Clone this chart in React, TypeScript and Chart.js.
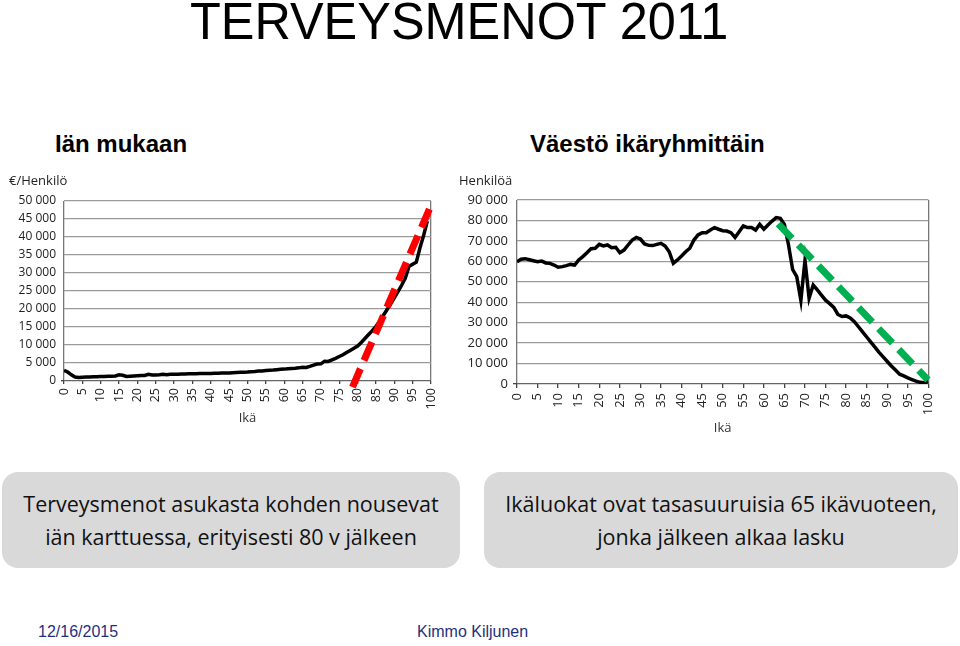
import React, { useEffect, useRef } from "react";
import { Chart, registerables } from "chart.js";

Chart.register(...registerables);

// ---------- data ----------
const costAges = [
  0, 1, 2, 3, 4, 5, 6, 7, 8, 9, 10, 11, 12, 13, 14, 15, 16, 17, 18, 19,
  20, 21, 22, 23, 24, 25, 26, 27, 28, 29, 30, 31, 32, 33, 34, 35, 36, 37, 38, 39,
  40, 41, 42, 43, 44, 45, 46, 47, 48, 49, 50, 51, 52, 53, 54, 55, 56, 57, 58, 59,
  60, 61, 62, 63, 64, 65, 66, 67, 68, 69, 70, 71, 72, 73, 74, 75, 76, 77, 78, 79,
  80, 81, 82, 83, 84, 85, 86, 87, 88, 89, 90, 91, 92, 93, 94, 95, 96, 97, 98, 99,
];
const costPerPerson = [
  3000, 2500, 1700, 1100, 950, 1050, 1100, 1100, 1150, 1150,
  1250, 1250, 1300, 1300, 1400, 1700, 1600, 1250, 1350, 1400,
  1450, 1500, 1550, 1850, 1650, 1700, 1750, 1900, 1750, 1850,
  1900, 1900, 1950, 1950, 2000, 2000, 2000, 2050, 2050, 2100,
  2100, 2150, 2150, 2200, 2200, 2250, 2300, 2350, 2400, 2450,
  2500, 2600, 2650, 2750, 2800, 2900, 3000, 3050, 3150, 3250,
  3300, 3400, 3500, 3550, 3650, 3800, 3750, 4050, 4400, 4700,
  4750, 5500, 5450, 5850, 6300, 6800, 7300, 7900, 8500, 9100,
  9700, 10700, 11800, 12900, 14000, 15200, 16600, 18200, 19800, 21400,
  23100, 24800, 26600, 28600, 31800, 32400, 33000, 37000, 40500, 44400,
];
const costTrendAges = [78.6, 100.3];
const costTrendValues = [-1700, 49500];

const popAges = [
  0, 1, 2, 3, 4, 5, 6, 7, 8, 9, 10, 11, 12, 13, 14, 15, 16, 17, 18, 19,
  20, 21, 22, 23, 24, 25, 26, 27, 28, 29, 30, 31, 32, 33, 34, 35, 36, 37, 38, 39,
  40, 41, 42, 43, 44, 45, 46, 47, 48, 49, 50, 51, 52, 53, 54, 55, 56, 57, 58, 59,
  60, 61, 62, 63, 64, 65, 66, 67, 68, 69, 70, 71, 72, 73, 74, 75, 76, 77, 78, 79,
  80, 81, 82, 83, 84, 85, 86, 87, 88, 89, 90, 91, 92, 93, 94, 95, 96, 97, 98, 99, 100,
];
const population = [
  59800, 61000, 61300, 60800, 60300, 59800, 60100, 59200, 59000, 58200,
  57100, 57400, 57900, 58500, 58200, 60700, 62300, 64200, 66200, 66400,
  68300, 67500, 68000, 66700, 66900, 64200, 65500, 68000, 70400, 71700,
  70900, 68500, 67800, 67700, 68300, 68800, 67500, 64700, 59000, 60700,
  62600, 64700, 66400, 70400, 72900, 74000, 74000, 75300, 76500, 75700,
  75000, 74800, 74000, 71700, 74500, 77300, 76500, 76500, 75300, 78100,
  75700, 77800, 79700, 81400, 81000, 78000, 68000, 56000, 52500, 41000,
  60500, 42000, 48400, 46000, 43500, 41000, 39300, 37500, 34000, 33000,
  33300, 32300, 30500, 28000, 25500, 23000, 20500, 18000, 15500, 13300,
  11000, 8800, 6800, 4800, 4000, 3000, 2200, 1400, 800, 600, 1200,
];
const popTrendAges = [63.5, 99.9];
const popTrendValues = [78300, 1950];

const xMin = 0;
const xMax = 100;
const xStep = 5;
const costMax = 50000;
const costStep = 5000;
const popMax = 90000;
const popStep = 10000;

// ---------- helpers ----------
const fmt = (v: number) => {
  if (v < 1000) return String(v);
  return `${Math.floor(v / 1000)} ${String(v % 1000).padStart(3, "0")}`;
};
const toPts = (xs: number[], ys: number[]) => xs.map((x, i) => ({ x, y: ys[i] }));
const tickFont = (size: number) => ({ family: "'Open Sans', 'Liberation Sans', sans-serif", size });

type Spec = {
  main: { x: number; y: number }[];
  trend: { x: number; y: number }[];
  trendColor: string;
  trendDash: number[];
  yMax: number;
  yStep: number;
  yTitle: string;
  yWidth: number;
  xHeight: number;
  padRight: number;
  titleBox: number;
  tickLen: number;
  xPad: number;
  yPad: number;
  xFontSize: number;
  yFontSize: number;
};

function ChartBox({ spec, left, top, width, height }: { spec: Spec; left: number; top: number; width: number; height: number }) {
  const ref = useRef<HTMLCanvasElement | null>(null);
  useEffect(() => {
    if (!ref.current) return;
    const edge = (v: number) => v === xMin || v === xMax;
    const chart = new Chart(ref.current, {
      type: "line",
      data: {
        datasets: [
          {
            data: spec.trend,
            borderColor: spec.trendColor,
            borderWidth: 7,
            borderDash: spec.trendDash,
            pointRadius: 0,
            clip: false as any,
            tension: 0,
          },
          {
            data: spec.main,
            borderColor: "#000000",
            borderWidth: 3.5,
            pointRadius: 0,
            tension: 0,
          },
        ],
      },
      options: {
        responsive: false,
        animation: false,
        events: [],
        layout: { padding: { left: 0, right: spec.padRight, top: 0, bottom: 0 } },
        plugins: {
          legend: { display: false },
          tooltip: { enabled: false },
          title: {
            display: true,
            text: spec.yTitle,
            align: "start",
            color: "#222",
            font: { ...tickFont(13), weight: "normal" as any },
            padding: { top: 8, bottom: spec.titleBox - 8 - 15.6 },
          },
        },
        scales: {
          x: {
            type: "linear",
            min: xMin,
            max: xMax,
            ticks: {
              stepSize: xStep,
              minRotation: 90,
              maxRotation: 90,
              autoSkip: false,
              padding: spec.xPad,
              color: "#222",
              font: tickFont(spec.xFontSize),
            },
            grid: {
              color: (c: any) => (edge(c.tick?.value) ? "#777" : "rgba(0,0,0,0)"),
              lineWidth: 1.3,
              drawTicks: true,
              tickLength: spec.tickLen,
              tickColor: "#444",
            },
            border: { display: false },
            title: {
              display: true,
              text: "Ikä",
              color: "#333",
              font: tickFont(13),
              padding: { top: 0, bottom: 9 },
            },
            afterFit: (s: any) => {
              s.height = spec.xHeight;
            },
          },
          y: {
            min: 0,
            max: spec.yMax,
            ticks: {
              stepSize: spec.yStep,
              padding: spec.yPad,
              color: "#222",
              font: tickFont(spec.yFontSize),
              callback: (v: any) => fmt(Number(v)),
            },
            grid: {
              color: (c: any) => (c.tick?.value === 0 ? "#666" : "#9a9a9a"),
              lineWidth: 1.3,
              drawTicks: true,
              tickLength: spec.tickLen,
              tickColor: (c: any) => (c.tick?.value === 0 ? "#444" : "rgba(0,0,0,0)"),
            },
            border: { display: false },
            afterFit: (s: any) => {
              s.width = spec.yWidth;
            },
          },
        },
      } as any,
    });
    return () => chart.destroy();
  }, [spec]);
  return (
    <canvas
      ref={ref}
      width={width}
      height={height}
      style={{ position: "absolute", left, top, width, height, display: "block" }}
    />
  );
}

const leftSpec: Spec = {
  main: toPts(costAges, costPerPerson),
  trend: toPts(costTrendAges, costTrendValues),
  trendColor: "#ff0000",
  trendDash: [20, 9],
  yMax: costMax,
  yStep: costStep,
  yTitle: "€/Henkilö",
  yWidth: 55,
  xHeight: 54,
  padRight: 10,
  titleBox: 36,
  tickLen: 3,
  xPad: 4,
  yPad: 5,
  xFontSize: 12.5,
  yFontSize: 12,
};

const rightSpec: Spec = {
  main: toPts(popAges, population),
  trend: toPts(popTrendAges, popTrendValues),
  trendColor: "#00b050",
  trendDash: [20, 9],
  yMax: popMax,
  yStep: popStep,
  yTitle: "Henkilöä",
  yWidth: 58,
  xHeight: 61,
  padRight: 20,
  titleBox: 35,
  tickLen: 4,
  xPad: 5,
  yPad: 5,
  xFontSize: 13,
  yFontSize: 13,
};

const boxStyle: React.CSSProperties = {
  position: "absolute",
  top: 472,
  height: 96,
  background: "#d9d9d9",
  borderRadius: 16,
  display: "flex",
  alignItems: "center",
  justifyContent: "center",
  textAlign: "center",
  fontFamily: "'Open Sans', sans-serif",
  fontSize: 21.5,
  lineHeight: "33px",
  color: "#111",
};

export default function App() {
  return (
    <div
      style={{
        position: "absolute",
        left: 0,
        top: 0,
        width: 960,
        height: 646,
        background: "#ffffff",
        overflow: "hidden",
      }}
    >
      <div
        style={{
          position: "absolute",
          left: 190,
          top: -5,
          fontFamily: "'Liberation Sans', Arial, sans-serif",
          fontSize: 52,
          lineHeight: "52px",
          color: "#000",
          whiteSpace: "nowrap",
          transform: "scaleX(0.97)",
          transformOrigin: "left top",
        }}
      >
        TERVEYSMENOT 2011
      </div>

      <div
        style={{
          position: "absolute",
          left: 55,
          top: 131.5,
          fontFamily: "'Liberation Sans', Arial, sans-serif",
          fontWeight: "bold",
          fontSize: 24,
          lineHeight: "24px",
          whiteSpace: "nowrap",
        }}
      >
        Iän mukaan
      </div>
      <div
        style={{
          position: "absolute",
          left: 530,
          top: 131.5,
          fontFamily: "'Liberation Sans', Arial, sans-serif",
          fontWeight: "bold",
          fontSize: 24,
          lineHeight: "24px",
          whiteSpace: "nowrap",
        }}
      >
        Väestö ikäryhmittäin
      </div>

      <ChartBox spec={leftSpec} left={9} top={165} width={441} height={270} />
      <ChartBox spec={rightSpec} left={459} top={165} width={490} height={280} />

      <div style={{ ...boxStyle, left: 2, width: 458 }}>
        <div>
          Terveysmenot asukasta kohden nousevat
          <br />
          iän karttuessa, erityisesti 80 v jälkeen
        </div>
      </div>
      <div style={{ ...boxStyle, left: 484, width: 474 }}>
        <div>
          Ikäluokat ovat tasasuuruisia 65 ikävuoteen,
          <br />
          jonka jälkeen alkaa lasku
        </div>
      </div>

      <div
        style={{
          position: "absolute",
          left: 38,
          top: 624,
          fontFamily: "'Liberation Sans', Arial, sans-serif",
          fontSize: 16,
          lineHeight: "16px",
          color: "#1f3080",
          whiteSpace: "nowrap",
        }}
      >
        12/16/2015
      </div>
      <div
        style={{
          position: "absolute",
          left: 417,
          top: 624,
          fontFamily: "'Liberation Sans', Arial, sans-serif",
          fontSize: 16,
          lineHeight: "16px",
          color: "#1f3080",
          whiteSpace: "nowrap",
        }}
      >
        Kimmo Kiljunen
      </div>
    </div>
  );
}
